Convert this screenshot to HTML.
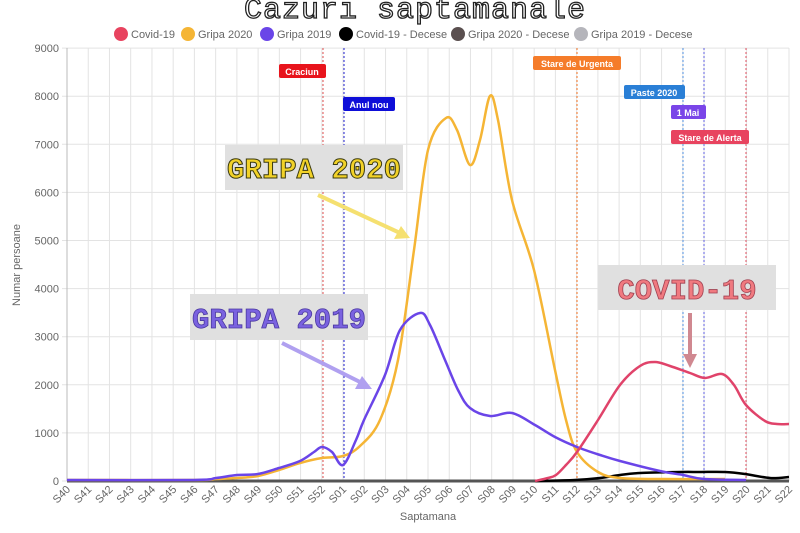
<!DOCTYPE html>
<html><head><meta charset="utf-8"><style>
html,body{margin:0;padding:0;background:#fff;width:800px;height:533px;overflow:hidden}
svg{display:block;font-family:"Liberation Sans",sans-serif}
</style></head><body>
<svg id="s" width="800" height="533" viewBox="0 0 800 533" xmlns="http://www.w3.org/2000/svg">
<text x="415" y="18" text-anchor="middle" font-family="Liberation Mono,monospace" font-size="30" fill="#fff" stroke="#222" stroke-width="1.3" letter-spacing="1">Cazuri saptamanale</text>
<g font-size="11" fill="#666">
<circle cx="121" cy="34" r="7" fill="#e8435f"/><text x="131" y="38">Covid-19</text>
<circle cx="188" cy="34" r="7" fill="#f5b535"/><text x="198" y="38">Gripa 2020</text>
<circle cx="267" cy="34" r="7" fill="#6a45e8"/><text x="277" y="38">Gripa 2019</text>
<circle cx="346" cy="34" r="7" fill="#000"/><text x="356" y="38">Covid-19 - Decese</text>
<circle cx="458" cy="34" r="7" fill="#5a4f4f"/><text x="468" y="38">Gripa 2020 - Decese</text>
<circle cx="581" cy="34" r="7" fill="#b5b5bb"/><text x="591" y="38">Gripa 2019 - Decese</text>
</g>
<g id="grid"></g>
<g id="series"></g>
<g font-size="9" font-weight="bold" fill="#fff">
<rect x="279" y="64" width="47" height="14" fill="#e8141c" rx="2"/><text x="302" y="75" text-anchor="middle">Craciun</text>
<rect x="343" y="97" width="52" height="14" fill="#0e0ed8" rx="2"/><text x="369" y="108" text-anchor="middle">Anul nou</text>
<rect x="533" y="56" width="88" height="14" fill="#f57c2a" rx="2"/><text x="577" y="67" text-anchor="middle">Stare de Urgenta</text>
<rect x="624" y="85" width="61" height="14" fill="#2a7fd6" rx="2"/><text x="654" y="96" text-anchor="middle">Paste 2020</text>
<rect x="671" y="105" width="35" height="14" fill="#7a45e8" rx="2"/><text x="688" y="116" text-anchor="middle">1 Mai</text>
<rect x="671" y="130" width="78" height="14" fill="#e8435f" rx="2"/><text x="710" y="141" text-anchor="middle">Stare de Alerta</text>
</g>
<rect x="225" y="145" width="178" height="45" fill="#e0e0e0"/>
<text x="314" y="178" text-anchor="middle" font-family="Liberation Mono,monospace" font-weight="bold" font-size="29" fill="#f2d228" stroke="#3a3a10" stroke-width="1">GRIPA 2020</text>
<rect x="190" y="294" width="178" height="46" fill="#e0e0e0"/>
<text x="279" y="328" text-anchor="middle" font-family="Liberation Mono,monospace" font-weight="bold" font-size="29" fill="#7a62e0" stroke="#4a38a0" stroke-width="0.8">GRIPA 2019</text>
<rect x="598" y="265" width="178" height="45" fill="#e0e0e0"/>
<text x="687" y="299" text-anchor="middle" font-family="Liberation Mono,monospace" font-weight="bold" font-size="29" fill="#f07a80" stroke="#a04050" stroke-width="0.8">COVID-19</text>
<g stroke-width="4" fill="none">
<line x1="318" y1="195" x2="400" y2="233" stroke="#f5e070"/><polygon points="410,238 394,239 401,226" fill="#f5e070" stroke="none"/>
<line x1="282" y1="343" x2="362" y2="383" stroke="#b0a0f0"/><polygon points="372,389 355,389 362,376" fill="#b0a0f0" stroke="none"/>
<line x1="690" y1="313" x2="690" y2="356" stroke="#d08890"/><polygon points="690,368 683,354 697,354" fill="#d08890" stroke="none"/>
</g>
</svg>
<script>
var NS="http://www.w3.org/2000/svg";
function X(i){return 67+21.235*i}
function Y(v){return 481-v*0.0481}
function el(p,t,a){var e=document.createElementNS(NS,t);for(var k in a)e.setAttribute(k,a[k]);p.appendChild(e);return e}
var g=document.getElementById('grid');
var labels=[];for(var i=40;i<=52;i++)labels.push('S'+i);for(var i=1;i<=22;i++)labels.push('S'+(i<10?'0':'')+i);
for(var i=0;i<labels.length;i++){var x=X(i);el(g,'line',{x1:x,y1:48,x2:x,y2:481,stroke:'#e3e3e3','stroke-width':1});
var t=el(g,'text',{x:0,y:0,'font-size':11,fill:'#666','text-anchor':'end',transform:'translate('+(x+4)+',490) rotate(-45)'});t.textContent=labels[i];}
for(var v=0;v<=9000;v+=1000){var y=Y(v);el(g,'line',{x1:62,y1:y,x2:789,y2:y,stroke:'#e3e3e3','stroke-width':1});
var t=el(g,'text',{x:59,y:y+4,'font-size':11,fill:'#666','text-anchor':'end'});t.textContent=v;}
el(g,'line',{x1:67,y1:48,x2:67,y2:481,stroke:'#bbb'});
var t=el(g,'text',{x:20,y:265,'font-size':11,fill:'#666','text-anchor':'middle',transform:'rotate(-90 20 265)'});t.textContent='Numar persoane';
t=el(g,'text',{x:428,y:520,'font-size':11,fill:'#666','text-anchor':'middle'});t.textContent='Saptamana';
var vl=[[323,'#e05050'],[344,'#2020d0'],[577,'#f07020'],[683,'#5090e0'],[704,'#6060e0'],[746,'#e05060']];
vl.forEach(function(a){el(g,'line',{x1:a[0],y1:48,x2:a[0],y2:481,stroke:a[1],'stroke-width':1,'stroke-dasharray':'2,2'})});
function path(pts,col,w){var d='M'+pts[0][0]+','+pts[0][1];
for(var i=0;i<pts.length-1;i++){var p0=pts[i-1]||pts[i],p1=pts[i],p2=pts[i+1],p3=pts[i+2]||p2;
d+=' C'+(p1[0]+(p2[0]-p0[0])/6)+','+(p1[1]+(p2[1]-p0[1])/6)+' '+(p2[0]-(p3[0]-p1[0])/6)+','+(p2[1]-(p3[1]-p1[1])/6)+' '+p2[0]+','+p2[1];}
el(document.getElementById('series'),'path',{d:d,stroke:col,'stroke-width':w,fill:'none'});}
path([[67,481],[540,481],[789,481]],'#555',3);
path([[535,481],[575,480],[600,478],[620,475],[640,473],[680,472],[700,472],[725,472],[745,474],[770,478],[789,477]],'#000',2.5);
path([[67,480],[194,480],[216,479],[237,478],[258,476],[279,470],[300,463],[322,458],[343,456],[360,446],[380,420],[398,360],[414,250],[428,150],[446,118],[457,130],[470,165],[480,140],[490,96],[498,120],[512,200],[534,270],[555,370],[566,420],[577,452],[598,472],[620,478],[660,479],[725,479]],'#f5b535',2.5);
path([[67,480],[194,480],[216,478],[237,475],[258,474],[279,468],[300,461],[314,452],[322,447],[332,452],[343,465],[356,440],[364,420],[385,375],[400,330],[420,313],[430,325],[445,360],[458,390],[470,408],[490,416],[512,413],[535,425],[555,437],[577,447],[600,455],[620,461],[660,471],[683,475],[704,479],[746,480]],'#6a45e8',2.5);
path([[535,481],[548,478],[556,475],[566,465],[577,452],[598,420],[620,385],[640,366],[655,362],[670,366],[690,373],[705,378],[722,374],[734,385],[746,405],[765,421],[777,424],[789,424]],'#e0436a',2.5);
</script>
</body></html>
